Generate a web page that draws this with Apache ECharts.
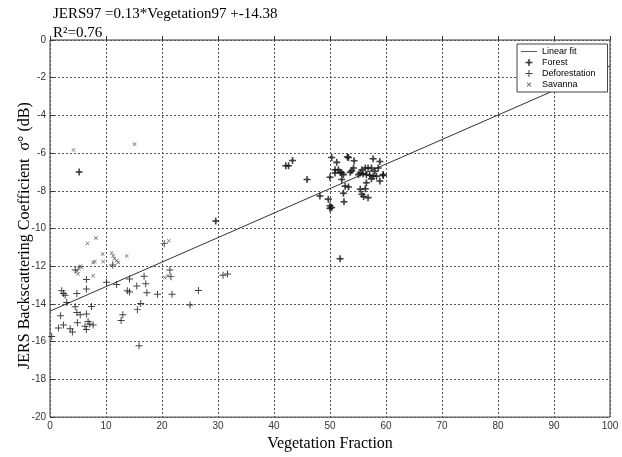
<!DOCTYPE html>
<html><head><meta charset="utf-8">
<script src="https://cdn.jsdelivr.net/npm/echarts@6/dist/echarts.min.js"></script>
<style>html,body{margin:0;padding:0;background:#fff}#c{width:622px;height:457px}</style>
</head><body><div id="c"></div>
<script>
const xTicks = [0,10,20,30,40,50,60,70,80,90,100];
const yTicks = [0,-2,-4,-6,-8,-10,-12,-14,-16,-18,-20];
const fitX = [0, 100];
const fitY = [-14.38, -1.38];
const forest = [[5.2,-7.0],[29.6,-9.6],[42.1,-6.67],[42.6,-6.67],[43.3,-6.39],[45.9,-7.4],[48.2,-8.27],[49.7,-8.44],
[50.0,-7.28],[50.3,-6.23],[51.2,-6.49],[50.9,-6.88],[51.5,-6.88],[51.8,-7.02],[52.1,-7.05],[50.9,-7.05],
[53.3,-6.23],[53.1,-6.21],[54.3,-6.4],[57.7,-6.3],[58.9,-6.44],[54.2,-6.79],[53.9,-6.93],[53.6,-7.01],
[55.7,-6.88],[56.3,-6.79],[56.8,-6.79],[57.4,-6.79],[55.4,-7.05],[55.9,-7.1],[56.5,-7.14],[57.1,-7.17],
[57.7,-7.22],[58.6,-6.79],[58.0,-6.96],[59.5,-7.14],[52.1,-7.4],[52.4,-7.14],[53.3,-7.8],[52.4,-8.13],
[52.5,-8.58],[50.0,-8.79],[50.3,-8.88],[50.0,-8.93],[52.7,-7.75],[55.1,-7.14],[57.4,-7.36],[58.3,-7.22],
[58.9,-7.48],[59.5,-7.19],[55.4,-7.92],[56.3,-7.89],[55.7,-8.18],[56.0,-8.3],[56.8,-8.36],[56.5,-7.57],[51.8,-11.6]];
const deforestation = [[20.4,-10.8],[11.2,-11.93],[21.4,-12.2],[21.6,-12.55],[6.5,-12.7],[6.5,-13.2],[2.1,-13.3],
[2.4,-13.44],[2.7,-13.54],[4.8,-13.44],[10.1,-12.85],[11.9,-12.97],[14.2,-12.67],[13.8,-13.3],[14.2,-13.37],
[15.5,-13.05],[16.8,-12.53],[17.1,-12.93],[17.3,-13.4],[19.2,-13.49],[21.8,-13.49],[26.5,-13.28],[25.0,-14.06],
[3.0,-13.92],[16.2,-13.98],[15.6,-14.3],[4.5,-14.15],[4.8,-14.45],[5.4,-14.57],[7.4,-14.14],[6.5,-14.53],
[1.9,-14.62],[13.0,-14.57],[12.7,-14.88],[4.9,-15.0],[6.8,-14.93],[7.1,-15.06],[2.4,-15.11],[1.5,-15.28],
[3.6,-15.32],[4.0,-15.49],[6.25,-15.18],[6.5,-15.35],[7.7,-15.11],[0.3,-15.72],[15.9,-16.22],[30.9,-12.48],
[31.7,-12.41],[4.5,-12.2]];
const savanna = [[4.2,-5.83],[15.1,-5.53],[6.7,-10.79],[8.2,-10.5],[9.4,-11.35],[9.5,-11.75],[11.0,-11.3],
[11.3,-11.45],[11.5,-11.6],[11.9,-11.7],[12.2,-11.8],[13.7,-11.45],[7.7,-11.8],[8.0,-11.75],[5.4,-12.0],
[5.6,-12.05],[4.8,-12.25],[5.1,-12.1],[7.7,-12.5],[21.2,-10.65],[20.5,-12.6],[21.1,-12.5],[5.0,-12.4]];
const titleLine1 = 'JERS97 =0.13*Vegetation97 +-14.38';
const titleLine2 = 'R²=0.76';
const legendNames = ['Linear fit','Forest','Deforestation','Savanna'];

const plusPath = 'path://M4.3,0H5.7V4.3H10V5.7H5.7V10H4.3V5.7H0V4.3H4.3Z';
const xPath = 'path://M0,1L1,0L5,4L9,0L10,1L6,5L10,9L9,10L5,6L1,10L0,9L4,5Z';
const xIconPath = 'path://M-3,-3h0.01v0.01z M13,13h0.01v0.01z M0,1.3L1.3,0L5,3.7L8.7,0L10,1.3L6.3,5L10,8.7L8.7,10L5,6.3L1.3,10L0,8.7L3.7,5Z';
const starPath = 'path://M3.9,0H6.1V10H3.9Z M0,3.9H10V6.1H0Z M5,1.8L8.2,5L5,8.2L1.8,5Z';
const linePath = 'path://M0,0H20V1H0Z';
const serif = 'Liberation Serif';
const sans = 'Liberation Sans';

const chart = echarts.init(document.getElementById('c'), null, {renderer:'canvas'});
chart.setOption({
  animation: false,
  backgroundColor: '#fff',
  title: [
    {text: titleLine1, left: 53, top: 7, padding: 0, textStyle:{fontFamily: serif, fontSize: 15, fontWeight:'normal', color:'#000'}},
    {text: titleLine2, left: 53, top: 26, padding: 0, textStyle:{fontFamily: serif, fontSize: 15, fontWeight:'normal', color:'#000'}}
  ],
  grid: {left: 50, right: 12, top: 40, bottom: 34, show: true, borderColor:'#333', borderWidth: 1, backgroundColor:'transparent'},
  legend: {
    orient: 'vertical', left: 517, top: 44,
    data: [
      {name: legendNames[0], icon: linePath, itemStyle:{color:'#333'}},
      {name: legendNames[1], icon: starPath},
      {name: legendNames[2], icon: plusPath},
      {name: legendNames[3], icon: xIconPath}
    ],
    backgroundColor: '#fff', borderColor: '#444', borderWidth: 1,
    padding: [3, 12, 3, 4], itemGap: 2, itemWidth: 16, itemHeight: 7,
    textStyle: {fontFamily: sans, fontSize: 9, color: '#000'}
  },
  xAxis: {
    type: 'value', min: 0, max: 100, interval: 10,
    name: 'Vegetation Fraction', nameLocation: 'middle', nameGap: 12,
    nameTextStyle: {fontFamily: serif, fontSize: 16, color:'#000'},
    axisLine: {show: false},
    axisTick: {show: true, inside: true, length: 4, lineStyle:{color:'#333'}},
    axisLabel: {fontFamily: sans, fontSize: 10, color:'#333', margin: 4,
      formatter: v => xTicks.includes(v) ? String(v) : ''},
    splitLine: {show: true, lineStyle: {color:'#555', type:[2,2], width: 1}}
  },
  yAxis: {
    type: 'value', min: -20, max: 0, interval: 2,
    name: 'JERS Backscattering Coefficient  σ° (dB)', nameLocation: 'middle', nameGap: 17,
    nameMoveOverlap: false,
    nameTextStyle: {fontFamily: serif, fontSize: 16, color:'#000', padding: [0, 14, 0, 0]},
    axisLine: {show: false},
    axisTick: {show: true, inside: true, length: 4, lineStyle:{color:'#333'}},
    axisLabel: {fontFamily: sans, fontSize: 10, color:'#333', margin: 4,
      formatter: v => yTicks.includes(v) ? String(v) : ''},
    splitLine: {show: true, lineStyle: {color:'#555', type:[2,2], width: 1}}
  },
  series: [
    {name: legendNames[0], type:'line', data: fitX.map((x,i)=>[x, fitY[i]]), symbol:'none', showSymbol:false,
     lineStyle:{color:'#333', width:1}, itemStyle:{color:'#333'}, z: 3},
    {name: legendNames[1], type:'scatter', data: forest, symbol: starPath, symbolSize: 7, itemStyle:{color:'#111'}, z: 4},
    {name: legendNames[2], type:'scatter', data: deforestation, symbol: plusPath, symbolSize: 7, itemStyle:{color:'#111'}, z: 4},
    {name: legendNames[3], type:'scatter', data: savanna, symbol: xPath, symbolSize: 4, itemStyle:{color:'#333'}, z: 4}
  ]
});
</script></body></html>
